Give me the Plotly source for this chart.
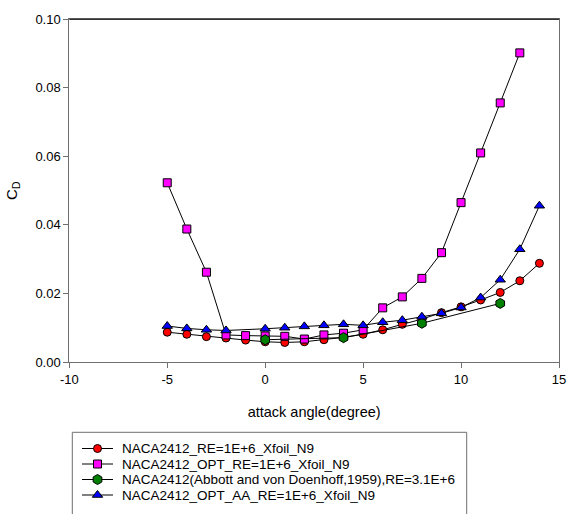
import plotly.graph_objects as go

# Drag coefficient vs. angle of attack for the NACA2412 airfoil variants
alpha_xfoil = [-5, -4, -3, -2, -1, 0, 1, 2, 3, 4, 5, 6, 7, 8, 9, 10, 11, 12, 13, 14]
cd_xfoil = [0.0087, 0.0081, 0.0074, 0.0070, 0.0064, 0.0059, 0.0057, 0.0059, 0.0065, 0.0072,
            0.0081, 0.0094, 0.0110, 0.0125, 0.0144, 0.0161, 0.0181, 0.0203, 0.0237, 0.0288]

alpha_opt = [-5, -4, -3, -2, -1, 0, 1, 2, 3, 4, 5, 6, 7, 8, 9, 10, 11, 12, 13]
cd_opt = [0.0523, 0.0388, 0.0262, 0.0079, 0.0077, 0.0076, 0.0075, 0.0067, 0.0079, 0.0084,
          0.0094, 0.0158, 0.0190, 0.0244, 0.0319, 0.0465, 0.0610, 0.0756, 0.0902]

alpha_exp = [0, 4, 8, 12]
cd_exp = [0.0065, 0.0071, 0.0113, 0.0171]

alpha_opt_aa = [-5, -4, -3, -2, 0, 1, 2, 3, 4, 5, 6, 7, 8, 9, 10, 11, 12, 13, 14]
cd_opt_aa = [0.0105, 0.0098, 0.0094, 0.0092, 0.0097, 0.0100, 0.0104, 0.0107, 0.0110, 0.0107,
             0.0116, 0.0122, 0.0132, 0.0142, 0.0159, 0.0188, 0.0240, 0.0329, 0.0456]

series_names = [
    "NACA2412_RE=1E+6_Xfoil_N9",
    "NACA2412_OPT_RE=1E+6_Xfoil_N9",
    "NACA2412(Abbott and von Doenhoff,1959),RE=3.1E+6",
    "NACA2412_OPT_AA_RE=1E+6_Xfoil_N9",
]

x_ticks = [-10, -5, 0, 5, 10, 15]
y_ticks = [0.00, 0.02, 0.04, 0.06, 0.08, 0.10]

W, H = 569, 514
FONT = "Liberation Sans, Arial, sans-serif"
AXIS_GRAY = "#6f6f6f"

styles = [
    dict(symbol="circle", color="#ff0000", size=8),
    dict(symbol="square", color="#ff00ff", size=8),
    dict(symbol="hexagon", color="#008000", size=10),
    dict(symbol="triangle-up", color="#0000ff", size=9),
]
datasets = [
    (alpha_xfoil, cd_xfoil),
    (alpha_opt, cd_opt),
    (alpha_exp, cd_exp),
    (alpha_opt_aa, cd_opt_aa),
]

fig = go.Figure()
for (xs, ys), st, name in zip(datasets, styles, series_names):
    fig.add_trace(go.Scatter(
        x=xs, y=ys, name=name, mode="lines+markers",
        line=dict(color="black", width=1),
        marker=dict(symbol=st["symbol"], color=st["color"], size=st["size"],
                    line=dict(color="black", width=1)),
        showlegend=False, cliponaxis=False,
    ))

# Plot area in pixels
left, right, top, bottom = 69.3, 559.0, 19.3, 362.0

fig.update_layout(
    width=W, height=H,
    margin=dict(l=0, r=0, t=0, b=0),
    paper_bgcolor="white",
    plot_bgcolor="rgba(0,0,0,0)",
    font=dict(family=FONT, size=13, color="black"),
    xaxis=dict(
        domain=[left / W, right / W],
        range=[-10, 15], tickvals=x_ticks, ticktext=[str(v) for v in x_ticks],
        showgrid=False, zeroline=False,
        showline=True, linecolor=AXIS_GRAY, linewidth=1, mirror=True,
        ticks="outside", ticklen=5, tickcolor=AXIS_GRAY, tickwidth=1,
        tickfont=dict(size=13),
        title=dict(text="attack angle(degree)", font=dict(size=14.5), standoff=21),
        automargin=False,
    ),
    yaxis=dict(
        domain=[(H - bottom) / H, (H - top) / H],
        range=[0, 0.10], tickvals=y_ticks, ticktext=[f"{v:.2f}" for v in y_ticks],
        showgrid=False, zeroline=False,
        showline=True, linecolor=AXIS_GRAY, linewidth=1, mirror=True,
        ticks="outside", ticklen=5, tickcolor=AXIS_GRAY, tickwidth=1,
        tickfont=dict(size=13),
        title=dict(text="C<sub>D</sub>", font=dict(size=15), standoff=14),
        automargin=False,
    ),
    # pixel-space overlay used for the legend block
    xaxis2=dict(domain=[0, 1], range=[0, W], visible=False, fixedrange=True),
    yaxis2=dict(domain=[0, 1], range=[H, 0], visible=False, fixedrange=True),
)

# black top frame line
fig.add_shape(type="line", xref="x domain", yref="y domain", x0=0, x1=1, y0=1, y1=1,
              line=dict(color="black", width=1))

# legend block
box_l, box_t, box_r = 72.3, 432.3, 466.7
fig.add_shape(type="rect", xref="x2", yref="y2", x0=box_l, y0=box_t, x1=box_r, y1=H + 20,
              line=dict(color=AXIS_GRAY, width=1), fillcolor="rgba(0,0,0,0)", layer="below")
row_y = [448.5, 464.0, 479.5, 495.0]
key_x0, key_x1, text_x = 82.0, 113.0, 120.0
for ry, st, name in zip(row_y, styles, series_names):
    fig.add_shape(type="line", xref="x2", yref="y2", x0=key_x0, x1=key_x1, y0=ry, y1=ry,
                  line=dict(color="black", width=1), layer="below")
    fig.add_trace(go.Scatter(
        x=[(key_x0 + key_x1) / 2], y=[ry], xaxis="x2", yaxis="y2", mode="markers",
        marker=dict(symbol=st["symbol"], color=st["color"], size=st["size"],
                    line=dict(color="black", width=1)),
        showlegend=False, hoverinfo="skip", cliponaxis=False,
    ))
    fig.add_annotation(x=text_x, y=ry, xref="x2", yref="y2", text=name, showarrow=False,
                       xanchor="left", yanchor="middle", font=dict(size=13.5))

fig.write_html("out.html")
